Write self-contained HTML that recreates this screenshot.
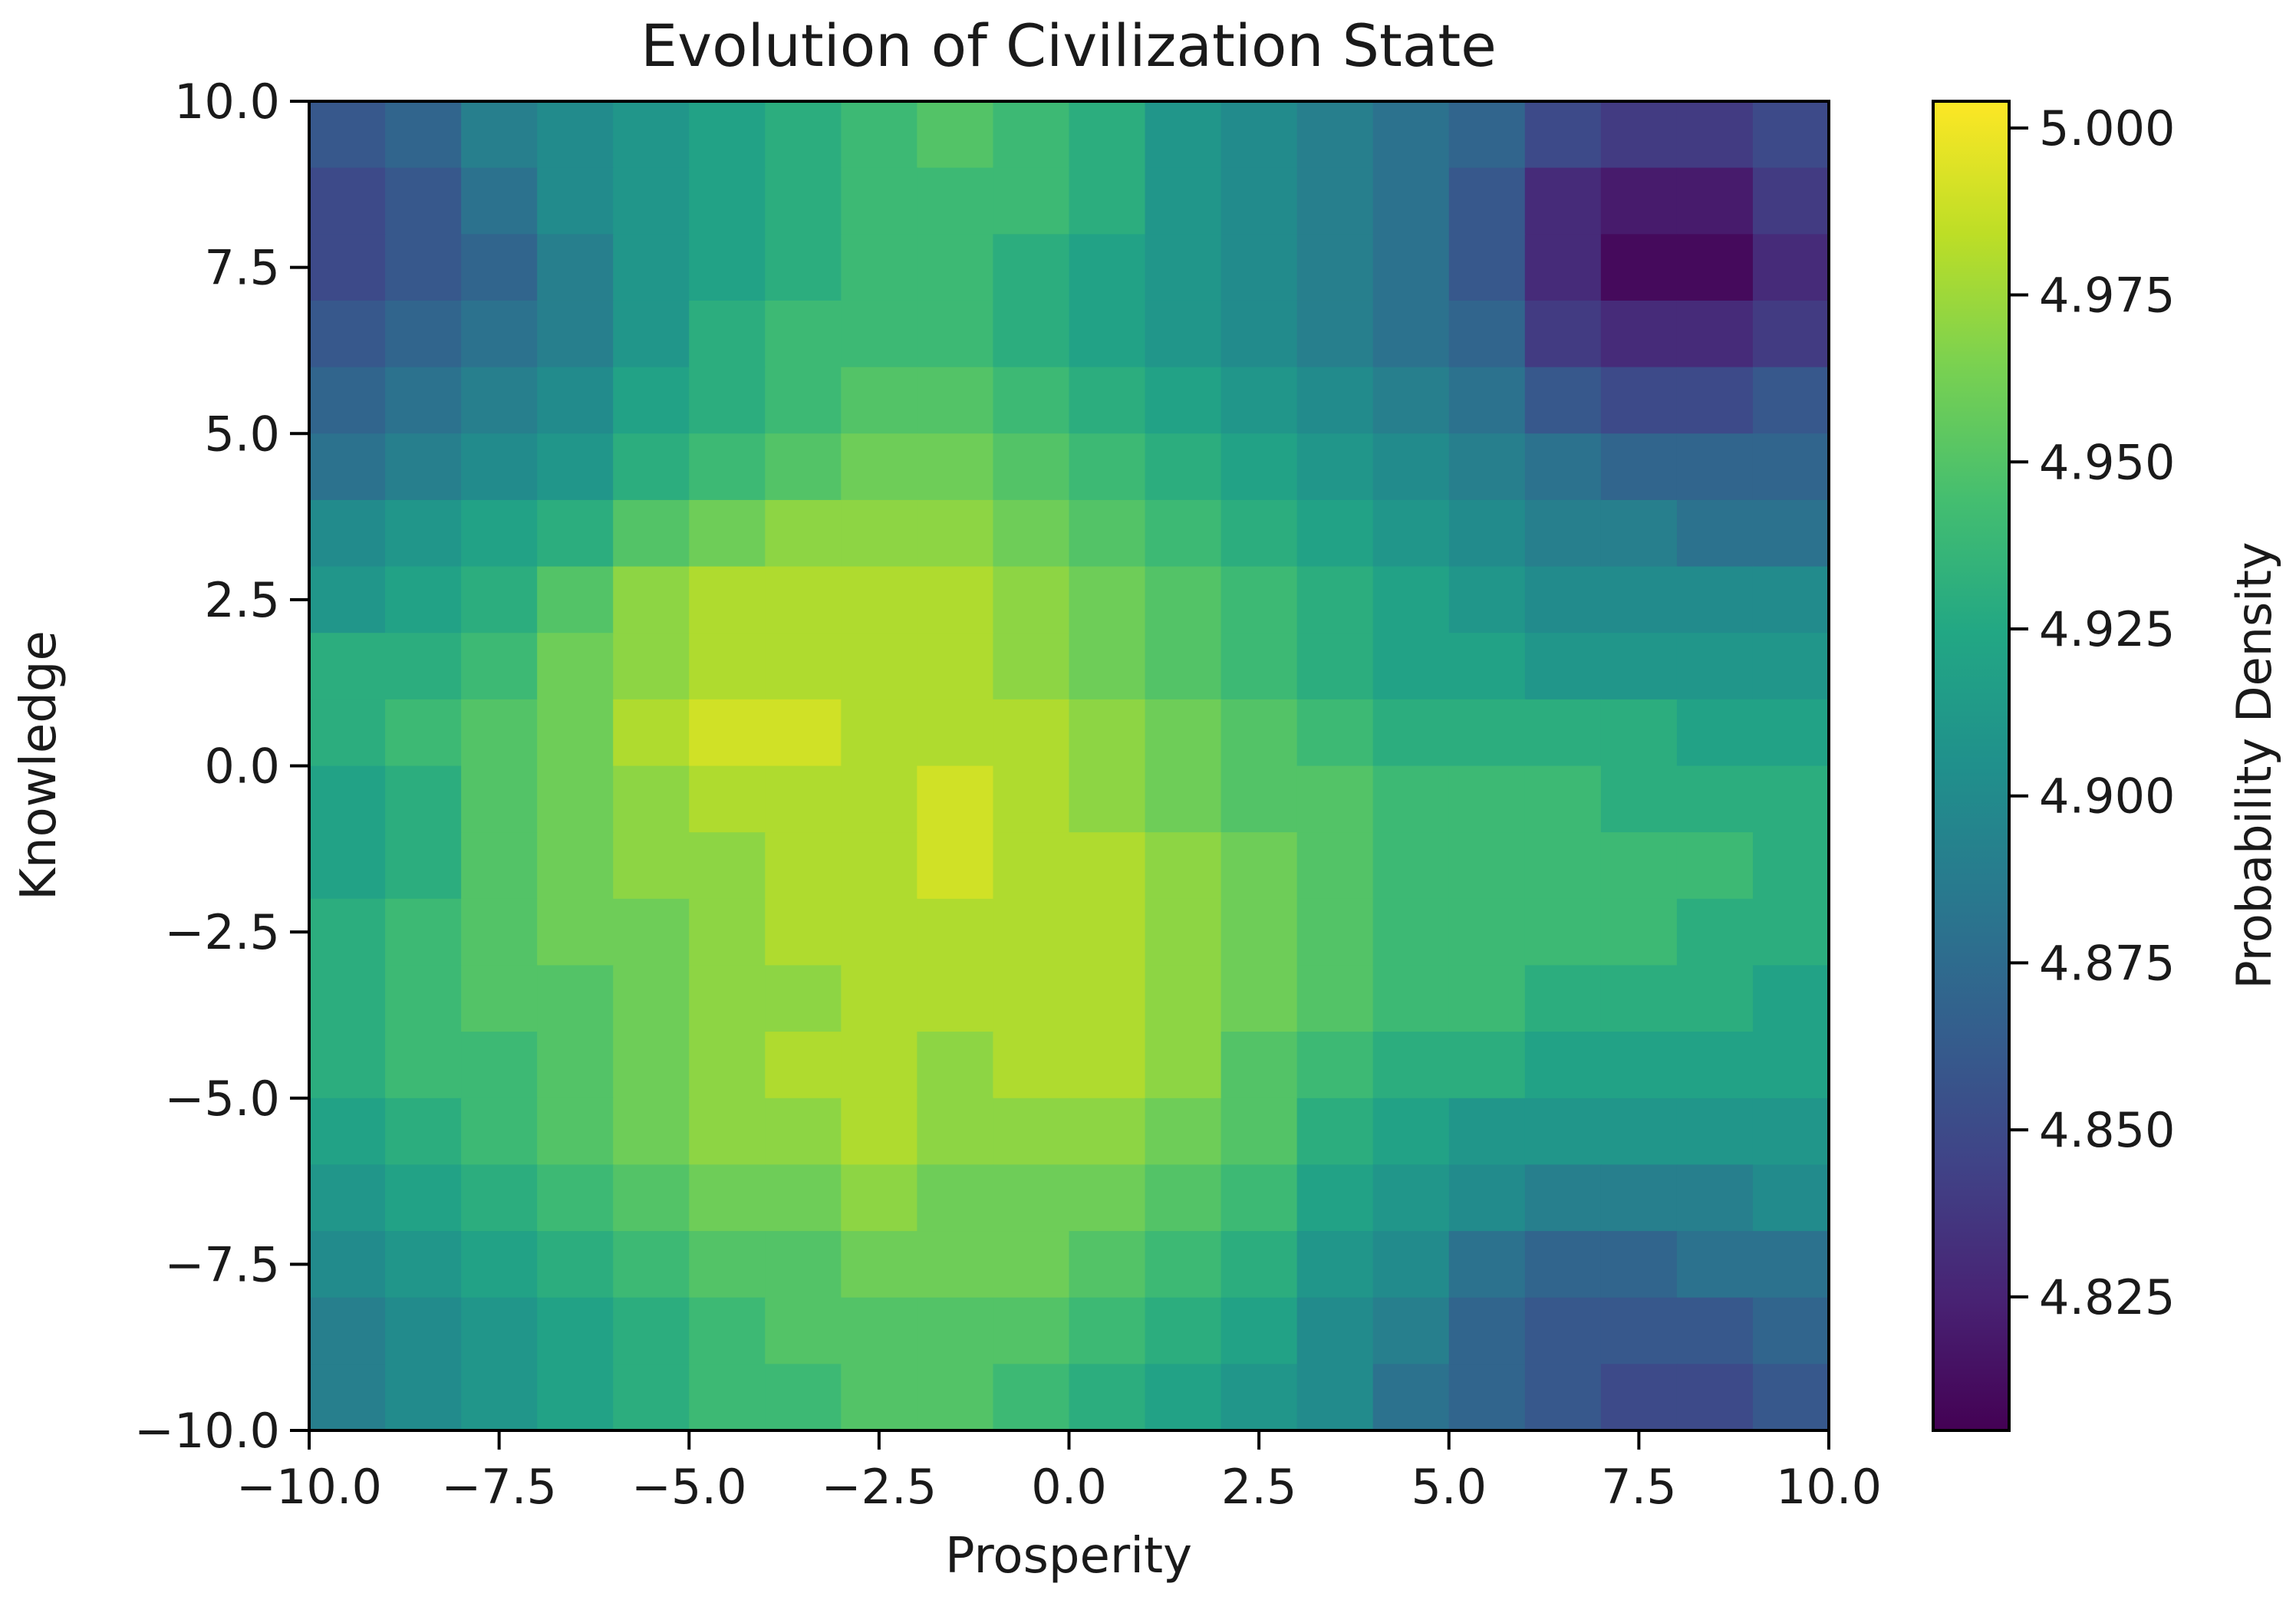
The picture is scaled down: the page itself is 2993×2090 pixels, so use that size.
<!DOCTYPE html>
<html><head><meta charset="utf-8"><style>
html,body{margin:0;padding:0;background:#fff}
svg{display:block}
text{font-family:"DejaVu Sans","Liberation Sans",sans-serif;fill:#1a1a1a}
</style></head><body>
<svg id="chart" width="2993" height="2090" xmlns="http://www.w3.org/2000/svg">
<defs><linearGradient id="vir" x1="0" y1="1" x2="0" y2="0"></linearGradient></defs>
<g id="cells"></g>
<g id="axes"></g>
</svg>
<script>
const xTicks=[-10,-7.5,-5,-2.5,0,2.5,5,7.5,10];
const yTicks=[-10,-7.5,-5,-2.5,0,2.5,5,7.5,10];
const cbTicks=[4.825,4.85,4.875,4.9,4.925,4.95,4.975,5.0];
const xCenters=[-9.5,-8.5,-7.5,-6.5,-5.5,-4.5,-3.5,-2.5,-1.5,-0.5,0.5,1.5,2.5,3.5,4.5,5.5,6.5,7.5,8.5,9.5];
const yCenters=[9.5,8.5,7.5,6.5,5.5,4.5,3.5,2.5,1.5,0.5,-0.5,-1.5,-2.5,-3.5,-4.5,-5.5,-6.5,-7.5,-8.5,-9.5];
const densityRows=[
[4.86,4.87,4.89,4.90,4.91,4.92,4.93,4.94,4.95,4.94,4.93,4.91,4.90,4.89,4.88,4.87,4.85,4.84,4.84,4.85],
[4.85,4.86,4.88,4.90,4.91,4.92,4.93,4.94,4.94,4.94,4.93,4.91,4.90,4.89,4.88,4.86,4.83,4.82,4.82,4.84],
[4.85,4.86,4.87,4.89,4.91,4.92,4.93,4.94,4.94,4.93,4.92,4.91,4.90,4.89,4.88,4.86,4.83,4.81,4.81,4.83],
[4.86,4.87,4.88,4.89,4.91,4.93,4.94,4.94,4.94,4.93,4.92,4.91,4.90,4.89,4.88,4.87,4.84,4.83,4.83,4.84],
[4.87,4.88,4.89,4.90,4.92,4.93,4.94,4.95,4.95,4.94,4.93,4.92,4.91,4.90,4.89,4.88,4.86,4.85,4.85,4.86],
[4.88,4.89,4.90,4.91,4.93,4.94,4.95,4.96,4.96,4.95,4.94,4.93,4.92,4.91,4.90,4.89,4.88,4.87,4.87,4.87],
[4.90,4.91,4.92,4.93,4.95,4.96,4.97,4.97,4.97,4.96,4.95,4.94,4.93,4.92,4.91,4.90,4.89,4.89,4.88,4.88],
[4.91,4.92,4.93,4.95,4.97,4.98,4.98,4.98,4.98,4.97,4.96,4.95,4.94,4.93,4.92,4.91,4.90,4.90,4.90,4.90],
[4.93,4.93,4.94,4.96,4.97,4.98,4.98,4.98,4.98,4.97,4.96,4.95,4.94,4.93,4.92,4.92,4.91,4.91,4.91,4.91],
[4.93,4.94,4.95,4.96,4.98,4.99,4.99,4.98,4.98,4.98,4.97,4.96,4.95,4.94,4.93,4.93,4.93,4.93,4.92,4.92],
[4.92,4.93,4.95,4.96,4.97,4.98,4.98,4.98,4.99,4.98,4.97,4.96,4.95,4.95,4.94,4.94,4.94,4.93,4.93,4.93],
[4.92,4.93,4.95,4.96,4.97,4.97,4.98,4.98,4.99,4.98,4.98,4.97,4.96,4.95,4.94,4.94,4.94,4.94,4.94,4.93],
[4.93,4.94,4.95,4.96,4.96,4.97,4.98,4.98,4.98,4.98,4.98,4.97,4.96,4.95,4.94,4.94,4.94,4.94,4.93,4.93],
[4.93,4.94,4.95,4.95,4.96,4.97,4.97,4.98,4.98,4.98,4.98,4.97,4.96,4.95,4.94,4.94,4.93,4.93,4.93,4.92],
[4.93,4.94,4.94,4.95,4.96,4.97,4.98,4.98,4.97,4.98,4.98,4.97,4.95,4.94,4.93,4.93,4.92,4.92,4.92,4.92],
[4.92,4.93,4.94,4.95,4.96,4.97,4.97,4.98,4.97,4.97,4.97,4.96,4.95,4.93,4.92,4.91,4.91,4.91,4.91,4.91],
[4.91,4.92,4.93,4.94,4.95,4.96,4.96,4.97,4.96,4.96,4.96,4.95,4.94,4.92,4.91,4.90,4.89,4.89,4.89,4.90],
[4.90,4.91,4.92,4.93,4.94,4.95,4.95,4.96,4.96,4.96,4.95,4.94,4.93,4.91,4.90,4.88,4.87,4.87,4.88,4.88],
[4.89,4.90,4.91,4.92,4.93,4.94,4.95,4.95,4.95,4.95,4.94,4.93,4.92,4.90,4.89,4.87,4.86,4.86,4.86,4.87],
[4.89,4.90,4.91,4.92,4.93,4.94,4.94,4.95,4.95,4.94,4.93,4.92,4.91,4.90,4.88,4.87,4.86,4.85,4.85,4.86]
];
const vmin=4.805, vmax=5.004;
const P={l:403,r:2384,t:132,b:1865};
const CB={l:2520,r:2619};
const sx=v=>P.l+(v+10)/20*(P.r-P.l);
const sy=v=>P.t+(10-v)/20*(P.b-P.t);
const sc=v=>P.b-(v-vmin)/(vmax-vmin)*(P.b-P.t);
const VIR=[[68,1,84],[72,35,116],[64,67,135],[52,94,141],[41,120,142],[32,144,140],[34,167,132],[68,190,112],[121,209,81],[189,222,38],[253,231,37]];
function viridis(t){t=Math.max(0,Math.min(1,t));const f=t*(VIR.length-1);const i=Math.min(VIR.length-2,Math.floor(f));const u=f-i;
const c=VIR[i].map((a,k)=>Math.round(a+(VIR[i+1][k]-a)*u));return `rgb(${c[0]},${c[1]},${c[2]})`;}
const NS="http://www.w3.org/2000/svg";
function mk(tag,attrs,parent){const e=document.createElementNS(NS,tag);for(const k in attrs)e.setAttribute(k,attrs[k]);parent.appendChild(e);return e;}
const cells=document.getElementById('cells');
const cw=(P.r-P.l)/xCenters.length, ch=(P.b-P.t)/yCenters.length;
densityRows.forEach((row,ri)=>{row.forEach((v,ci)=>{
 const r=mk('rect',{x:sx(xCenters[ci])-cw/2,y:sy(yCenters[ri])-ch/2,width:cw+1,height:ch+1,fill:viridis((v-vmin)/(vmax-vmin))},cells);
 
 
});});
const ax=document.getElementById('axes');
const grad=document.getElementById('vir');
VIR.forEach((c,i)=>mk('stop',{offset:(i/(VIR.length-1)),'stop-color':`rgb(${c[0]},${c[1]},${c[2]})`},grad));
const frame=mk('rect',{x:P.l,y:P.t,width:P.r-P.l,height:P.b-P.t,fill:'none',stroke:'#000','stroke-width':4},ax);


xTicks.forEach(v=>{const x=sx(v);
 mk('line',{x1:x,x2:x,y1:P.b,y2:P.b+25,stroke:'#000','stroke-width':4},ax);
 const t=mk('text',{x:x,y:1960,'font-size':62,'text-anchor':'middle'},ax);t.textContent=(v<0?'\u2212':'')+Math.abs(v).toFixed(1);
 
 
});
yTicks.forEach(v=>{const y=sy(v);
 mk('line',{x1:P.l-25,x2:P.l,y1:y,y2:y,stroke:'#000','stroke-width':4},ax);
 const t=mk('text',{x:365,y:y+22,'font-size':62,'text-anchor':'end'},ax);t.textContent=(v<0?'\u2212':'')+Math.abs(v).toFixed(1);
 
 
});
const cb=mk('rect',{x:CB.l,y:P.t,width:CB.r-CB.l,height:P.b-P.t,fill:'url(#vir)',stroke:'#000','stroke-width':4},ax);


cbTicks.forEach(v=>{const y=sc(v);
 mk('line',{x1:CB.r,x2:CB.r+25,y1:y,y2:y,stroke:'#000','stroke-width':4},ax);
 const t=mk('text',{x:2658,y:y+22,'font-size':62},ax);t.textContent=v.toFixed(3);
 
 
});
</script>
<svg style="position:absolute;left:0;top:0" width="2993" height="2090" xmlns="http://www.w3.org/2000/svg">
<text x="1393" y="86" font-size="76" text-anchor="middle">Evolution of Civilization State</text>
<text x="1393" y="2050" font-size="64" text-anchor="middle">Prosperity</text>
<text transform="translate(72,998) rotate(-90)" font-size="64" text-anchor="middle">Knowledge</text>
<text transform="translate(2960,998) rotate(-90)" font-size="62" text-anchor="middle">Probability Density</text>
</svg>
</body></html>
